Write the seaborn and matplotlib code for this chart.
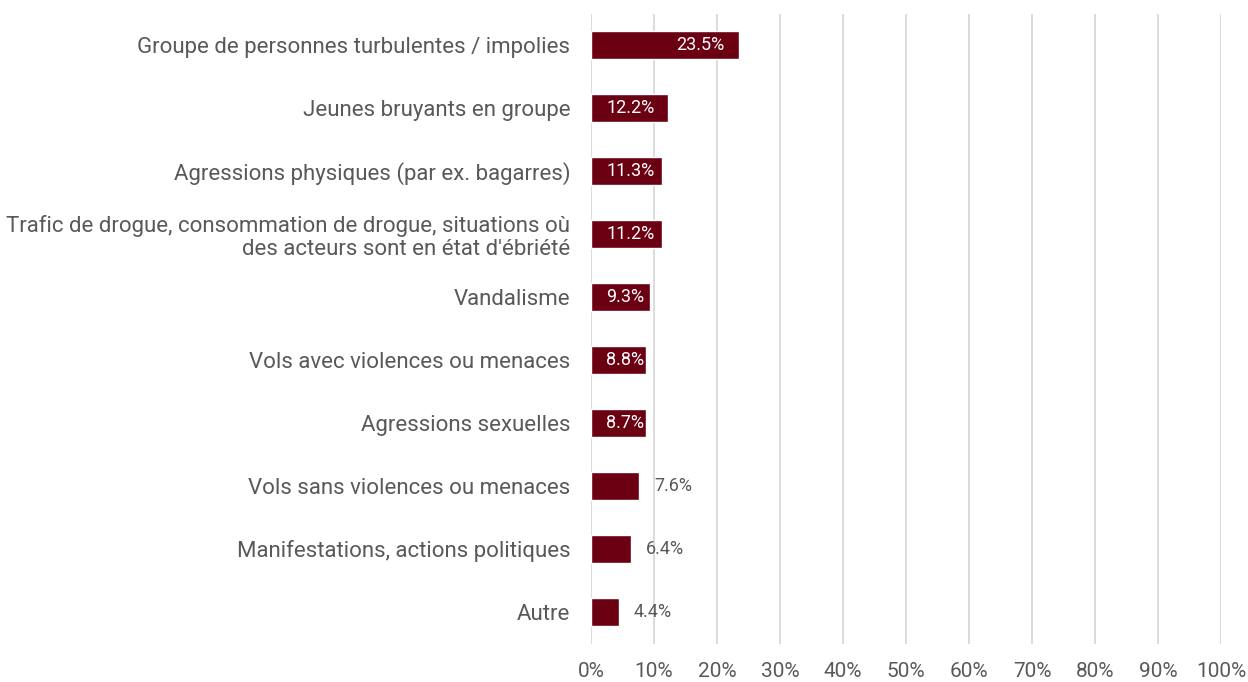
import matplotlib
matplotlib.use("Agg")
import matplotlib.pyplot as plt
from matplotlib import font_manager
import seaborn as sns
import pandas as pd

categories = [
    "Groupe de personnes turbulentes / impolies",
    "Jeunes bruyants en groupe",
    "Agressions physiques (par ex. bagarres)",
    "Trafic de drogue, consommation de drogue, situations où\ndes acteurs sont en état d'ébriété",
    "Vandalisme",
    "Vols avec violences ou menaces",
    "Agressions sexuelles",
    "Vols sans violences ou menaces",
    "Manifestations, actions politiques",
    "Autre",
]
values = [23.5, 12.2, 11.3, 11.2, 9.3, 8.8, 8.7, 7.6, 6.4, 4.4]
tick_values = [0, 10, 20, 30, 40, 50, 60, 70, 80, 90, 100]
tick_labels = [f"{v}%" for v in tick_values]

df = pd.DataFrame({"cat": categories, "val": values})

sns.set_theme(style="white")
available = {f.name for f in font_manager.fontManager.ttflist}
family = "Liberation Sans Narrow" if "Liberation Sans Narrow" in available else "Roboto"
plt.rcParams["font.family"] = [family, "DejaVu Sans"]

bar_color = "#6B0013"
text_color = "#595959"
grid_color = "#D9D9D9"

fig = plt.figure(figsize=(12.48, 6.82), dpi=100)
ax = fig.add_axes([591 / 1248, 1 - 643.5 / 682, (1221 - 591) / 1248, (643.5 - 13.5) / 682])

sns.barplot(data=df, x="val", y="cat", color=bar_color, width=0.45,
            saturation=1, ax=ax, orient="h", zorder=3)

ax.set_xlim(0, 100)
ax.set_ylim(9.5, -0.5)
ax.set_xticks(tick_values)
ax.set_xticklabels(tick_labels)
ax.set_xlabel("")
ax.set_ylabel("")
for x in tick_values:
    ax.axvline(x, color=grid_color, lw=1.3, zorder=1)
for s in ax.spines.values():
    s.set_visible(False)
ax.tick_params(axis="x", length=0, pad=13, labelsize=15, labelcolor=text_color)
ax.tick_params(axis="y", length=0, pad=15, labelsize=16, labelcolor=text_color)
for lbl in ax.get_yticklabels():
    lbl.set_linespacing(1.15)

# value labels: inside the bar end for the larger bars, just outside for the small ones
px_per_unit = (1221 - 591) / 100
pad_px = 15
offset = pad_px / px_per_unit
renderer = fig.canvas.get_renderer()
for i, v in enumerate(values):
    label = f"{v:.1f}%"
    if v >= 8.5:
        t = ax.text(v - offset, i, label, ha="right", va="center",
                    color="white", fontsize=13, zorder=4)
        width_px = t.get_window_extent(renderer).width
        # keep the label clear of the bar's start when the bar is short
        if v * px_per_unit - pad_px - width_px < pad_px:
            t.set_x(offset)
            t.set_ha("left")
    else:
        ax.text(v + offset, i, label, ha="left", va="center",
                color=text_color, fontsize=13, zorder=4)

fig.savefig("out.png", dpi=100)
